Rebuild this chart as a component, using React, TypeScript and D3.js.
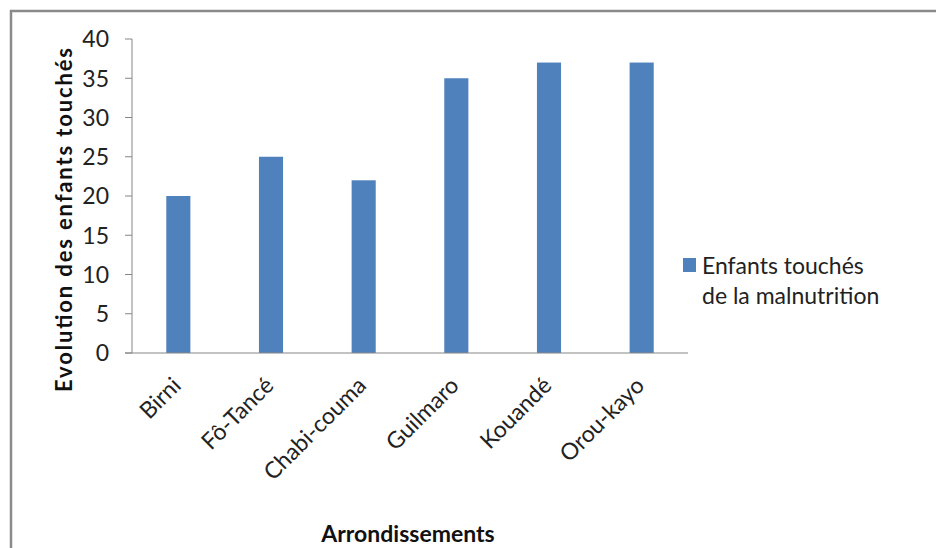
import React from "react";
import * as d3 from "d3";

const categories = ["Birni", "Fô-Tancé", "Chabi-couma", "Guilmaro", "Kouandé", "Orou-kayo"];
const values = [20, 25, 22, 35, 37, 37];
const yTicks = [0, 5, 10, 15, 20, 25, 30, 35, 40];
const seriesName = ["Enfants touchés", "de la malnutrition"];
const yTitle = "Evolution des enfants touchés";
const xTitle = "Arrondissements";

const FONT = "Lato, 'Open Sans', sans-serif";
const BAR = "#4F81BD";
const AXIS = "#868686";

export default function App() {
  const left = 132, right = 688, top = 39, bottom = 353;
  const x = d3.scaleBand<string>().domain(categories).range([left, right]).paddingInner(0.74).paddingOuter(0.37);
  const y = d3.scaleLinear().domain([0, 40]).range([bottom, top]);
  return (
    <svg width={936} height={548} style={{ position: "absolute", left: 0, top: 0, background: "#fff" }} fontFamily={FONT}>
      <rect x={11} y={11} width={960} height={580} fill="none" stroke="#8a8a8a" strokeWidth={2.5} />
      {categories.map((c, i) => (
        <rect key={c} x={x(c)} y={y(values[i])} width={x.bandwidth()} height={y(0) - y(values[i])} fill={BAR} />
      ))}
      <line x1={left} x2={left} y1={top} y2={bottom} stroke={AXIS} strokeWidth={1} />
      <line x1={left - 7} x2={right} y1={bottom} y2={bottom} stroke={AXIS} strokeWidth={1} />
      {yTicks.map((t) => (
        <g key={t}>
          <line x1={left - 7} x2={left} y1={y(t)} y2={y(t)} stroke={AXIS} />
          <text x={109} y={y(t)} dy="0.36em" textAnchor="end" fontSize={23} fill="#222">{t}</text>
        </g>
      ))}
      {categories.map((c) => {
        const cx = (x(c) as number) + x.bandwidth() / 2;
        return (
          <text key={c} transform={`translate(${cx + 4},${bottom + 34}) rotate(-45)`} textAnchor="end" fontSize={23} fill="#222">{c}</text>
        );
      })}
      <text transform={`translate(72,220) rotate(-90)`} textAnchor="middle" fontSize={22} fontWeight="bold" fill="#111" textLength={344} lengthAdjust="spacing">{yTitle}</text>
      <text x={408} y={542} textAnchor="middle" fontSize={23} fontWeight="bold" fill="#111">{xTitle}</text>
      <rect x={683} y={258} width={13} height={14} fill={BAR} />
      <text x={702} y={274} fontSize={23} fill="#222">{seriesName[0]}</text>
      <text x={702} y={304} fontSize={23} fill="#222">{seriesName[1]}</text>
    </svg>
  );
}
